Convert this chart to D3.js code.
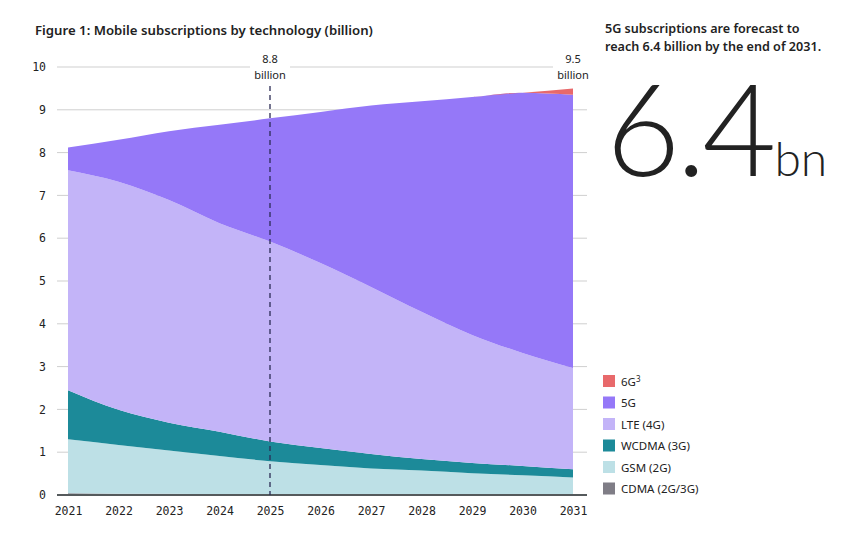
<!DOCTYPE html>
<html>
<head>
<meta charset="utf-8">
<script src="https://cdn.jsdelivr.net/npm/d3@7"></script>
<style>
  body { margin: 0; background: #fff; }
  svg text { fill: #222; }
  .tick text { font-family: "DejaVu Sans Mono", monospace; font-size: 11.5px; }
</style>
</head>
<body>
<div id="svgHolderDiv"></div>
<script>
"use strict";

// values (billion)
var years = [2021, 2022, 2023, 2024, 2025, 2026, 2027, 2028, 2029, 2030, 2031];
var cdma  = [0.04, 0.03, 0.03, 0.02, 0.02, 0.01, 0.01, 0.01, 0.01, 0.01, 0.01];
var gsm   = [1.26, 1.14, 1.01, 0.89, 0.77, 0.69, 0.61, 0.56, 0.50, 0.45, 0.40];
var wcdma = [1.15, 0.82, 0.65, 0.57, 0.46, 0.40, 0.34, 0.27, 0.24, 0.22, 0.19];
var lte   = [5.14, 5.33, 5.20, 4.87, 4.67, 4.32, 3.90, 3.44, 2.99, 2.64, 2.37];
var nr5g  = [0.53, 0.98, 1.61, 2.30, 2.88, 3.53, 4.24, 4.92, 5.56, 6.08, 6.38];
var g6    = [0, 0, 0, 0, 0, 0, 0, 0, 0, 0, 0.15];
var yTicks = [0, 1, 2, 3, 4, 5, 6, 7, 8, 9, 10];
var seriesNames = ["6G", "5G", "LTE (4G)", "WCDMA (3G)", "GSM (2G)", "CDMA (2G/3G)"];
var seriesColors = ["#e8696b", "#9578f8", "#c3b4f8", "#1c8a99", "#bde0e6", "#7f7d86"];
var markers = [{ year: 2025, label: "8.8" }, { year: 2031, label: "9.5" }];

function renderMyChart() {
    var svg = d3.select("#svgHolderDiv").append("svg")
        .attr("width", 850)
        .attr("height", 534);

    var x = d3.scaleLinear().domain([2021, 2031]).range([68, 573]),
        y = d3.scaleLinear().domain([0, 10]).range([495, 67]);

    var rows = years.map(function (yr, i) {
        return { year: yr, cdma: cdma[i], gsm: gsm[i], wcdma: wcdma[i], lte: lte[i], nr5g: nr5g[i], g6: g6[i] };
    });
    var keys = ["cdma", "gsm", "wcdma", "lte", "nr5g", "g6"];
    var keyColor = ["#7f7d86", "#bde0e6", "#1c8a99", "#c3b4f8", "#9578f8", "#e8696b"];
    var stacked = d3.stack().keys(keys)(rows);

    svg.append("text")
        .attr("x", 35).attr("y", 35)
        .attr("font-family", "Noto Sans, sans-serif")
        .attr("font-size", "13.2px")
        .attr("font-weight", 600)
        .text("Figure 1: Mobile subscriptions by technology (billion)");

    // gridlines
    svg.append("g")
        .selectAll("line")
        .data(yTicks)
        .enter().append("line")
        .attr("x1", 57).attr("x2", 587)
        .attr("y1", function (d) { return y(d); })
        .attr("y2", function (d) { return y(d); })
        .attr("stroke", "#cfcfcf")
        .attr("stroke-width", 1);

    var area = d3.area()
        .x(function (d) { return x(d.data.year); })
        .y0(function (d) { return y(d[0]); })
        .y1(function (d) { return y(d[1]); })
        .curve(d3.curveMonotoneX);

    svg.append("g")
        .selectAll("path")
        .data(stacked)
        .enter().append("path")
        .attr("fill", function (d, i) { return keyColor[i]; })
        .attr("d", area);

    // y axis labels
    svg.append("g")
        .attr("transform", "translate(57,0)")
        .call(d3.axisLeft(y).tickValues(yTicks).tickSize(0).tickPadding(11))
        .call(function (g) { g.select(".domain").remove(); });

    // baseline + x axis
    svg.append("line")
        .attr("x1", 57).attr("x2", 587)
        .attr("y1", y(0)).attr("y2", y(0))
        .attr("stroke", "#555a5c").attr("stroke-width", 2);

    svg.append("g")
        .attr("transform", "translate(0," + y(0) + ")")
        .call(d3.axisBottom(x).tickValues(years).tickFormat(d3.format("d")).tickSize(0).tickPadding(12))
        .call(function (g) { g.select(".domain").remove(); });

    // total markers
    markers.forEach(function (m) {
        var mx = x(m.year);
        svg.append("rect")
            .attr("x", mx - 20).attr("y", y(10) - 8)
            .attr("width", 40).attr("height", 20)
            .attr("fill", "#fff");
        svg.append("text")
            .attr("x", mx).attr("y", 63)
            .attr("text-anchor", "middle")
            .attr("font-family", "Noto Sans, sans-serif")
            .attr("font-size", "11px")
            .attr("fill", "#333")
            .text(m.label);
        svg.append("text")
            .attr("x", mx).attr("y", 79)
            .attr("text-anchor", "middle")
            .attr("font-family", "Noto Sans, sans-serif")
            .attr("font-size", "11px")
            .attr("fill", "#333")
            .text("billion");
    });

    svg.append("line")
        .attr("x1", x(2025)).attr("x2", x(2025))
        .attr("y1", 86).attr("y2", y(0))
        .attr("stroke", "#2b2b55")
        .attr("stroke-width", 1.3)
        .attr("stroke-dasharray", "5,4");

    // right text
    svg.append("text")
        .attr("x", 605).attr("y", 33)
        .attr("font-family", "Noto Sans, sans-serif")
        .attr("font-size", "12.6px")
        .attr("font-weight", 600)
        .text("5G subscriptions are forecast to");
    svg.append("text")
        .attr("x", 605).attr("y", 51)
        .attr("font-family", "Noto Sans, sans-serif")
        .attr("font-size", "12.6px")
        .attr("font-weight", 600)
        .text("reach 6.4 billion by the end of 2031.");

    var big = svg.append("text")
        .attr("x", 606).attr("y", 176)
        .attr("font-family", "Lato, sans-serif")
        .attr("font-weight", 300)
        .attr("fill", "#111");
    big.append("tspan").attr("font-size", "128px").attr("letter-spacing", "-4px").text("6.4");
    big.append("tspan").attr("font-size", "48px").attr("dx", 2).text("bn");

    // legend
    var legend = svg.append("g")
        .selectAll("g")
        .data(seriesNames)
        .enter().append("g")
        .attr("transform", function (d, i) { return "translate(603," + (375 + i * 21.5) + ")"; });
    legend.append("rect")
        .attr("width", 12).attr("height", 12)
        .attr("fill", function (d, i) { return seriesColors[i]; });
    var lt = legend.append("text")
        .attr("x", 18).attr("y", 10.5)
        .attr("font-family", "Noto Sans, sans-serif")
        .attr("font-size", "11.5px")
        .attr("fill", "#333");
    lt.append("tspan").text(function (d) { return d; });
    lt.filter(function (d) { return d === "6G"; })
        .append("tspan").attr("font-size", "8px").attr("dy", -4).text("3");
}

renderMyChart();
</script>
</body>
</html>
